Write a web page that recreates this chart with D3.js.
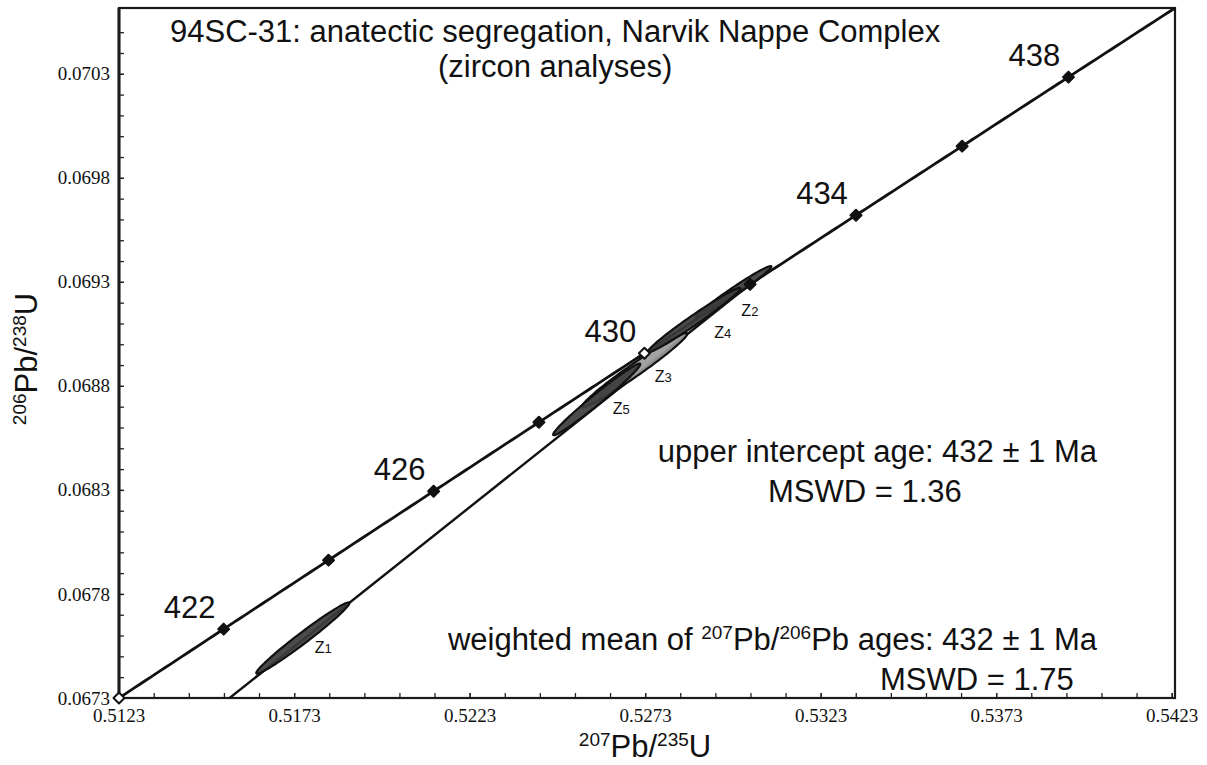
<!DOCTYPE html>
<html>
<head>
<meta charset="utf-8">
<script src="https://cdn.jsdelivr.net/npm/d3@7/dist/d3.min.js"></script>
<style>
  body { margin: 0; background: #fff; }
  text { fill: #111; }
</style>
</head>
<body>
<svg id="chart" width="1207" height="765"></svg>
<script>
// Decay constants (per year) used for the concordia curve
const LAMBDA_238 = 1.55125e-10;
const LAMBDA_235 = 9.8485e-10;

// Concordia age window shown on the diagram (Ma)
const ageWindow = [420, 440];
const markerAges = [420, 422, 424, 426, 428, 430, 432, 434, 436, 438];
const labelledAges = [422, 426, 430, 434, 438];
const openMarkerAges = [420, 430];

// Zircon analyses: 207Pb/235U, 206Pb/238U with 2-sigma errors and error correlation
const analysisNames = ["Z1", "Z2", "Z3", "Z4", "Z5"];
const pb207u235 = [0.517545, 0.529810, 0.527000, 0.528697, 0.525917];
const pb207u235Err = [0.001326, 0.001084, 0.001497, 0.001312, 0.001241];
const pb206u238 = [0.067610, 0.069273, 0.068898, 0.069139, 0.068757];
const pb206u238Err = [0.000171, 0.000125, 0.000178, 0.000154, 0.000172];
const errCorr = [0.982, 0.982, 0.979, 0.983, 0.983];

// Discordia: regression chord to the upper intercept
const upperInterceptAge = 432;
const discordiaLowerX = 0.51546;

// Axis ticks
const xMajorTicks = [0.512297, 0.517297, 0.522297, 0.527297, 0.532297, 0.537297, 0.542297];
const yMajorTicks = [0.067322, 0.067822, 0.068322, 0.068822, 0.069322, 0.069822, 0.070322];

const titleLines = ["94SC-31: anatectic segregation, Narvik Nappe Complex", "(zircon analyses)"];

// ---------------------------------------------------------------
const concordia = t => [Math.expm1(LAMBDA_235 * t * 1e6), Math.expm1(LAMBDA_238 * t * 1e6)];

const svg = d3.select("#chart");
const plot = { left: 119, right: 1175, top: 8, bottom: 698 };
const sans = "'Liberation Sans', Arial, sans-serif";
const bigFont = 31;

const c0 = concordia(ageWindow[0]), c1 = concordia(ageWindow[1]);
const x = d3.scaleLinear().domain([c0[0], c1[0]]).range([plot.left, plot.right]);
const y = d3.scaleLinear().domain([c0[1], c1[1]]).range([plot.bottom, plot.top]);

svg.append("defs").append("clipPath").attr("id", "plot-clip")
  .append("rect").attr("x", plot.left).attr("y", plot.top)
  .attr("width", plot.right - plot.left).attr("height", plot.bottom - plot.top);

// Axes with inward ticks
const xMinor = d3.range(0, 31).map(i => xMajorTicks[0] + i * 0.001);
const yMinor = d3.range(0, 33).map(i => yMajorTicks[0] + i * 0.0001);
const fmt = d3.format(".4f");

const gx = svg.append("g").attr("transform", `translate(0,${plot.bottom})`);
gx.call(d3.axisBottom(x).tickValues(xMinor).tickSize(-5).tickFormat(""));
gx.append("g").call(d3.axisBottom(x).tickValues(xMajorTicks).tickSize(-5).tickPadding(11).tickFormat(fmt));
gx.selectAll(".domain").remove();

const gy = svg.append("g").attr("transform", `translate(${plot.left},0)`);
gy.call(d3.axisLeft(y).tickValues(yMinor).tickSize(-5).tickFormat(""));
gy.append("g").call(d3.axisLeft(y).tickValues(yMajorTicks).tickSize(-5).tickPadding(9).tickFormat(fmt));
gy.selectAll(".domain").remove();

svg.selectAll(".tick line").attr("stroke", "#222").attr("stroke-width", 1.3);
svg.selectAll(".tick text")
  .attr("font-family", "'Liberation Serif', 'DejaVu Serif', serif")
  .attr("font-size", 19).attr("fill", "#222");

// Frame
svg.append("rect").attr("x", plot.left).attr("y", plot.top)
  .attr("width", plot.right - plot.left).attr("height", plot.bottom - plot.top)
  .attr("fill", "none").attr("stroke", "#1a1a1a").attr("stroke-width", 2.2);
svg.append("line").attr("x1", plot.left).attr("x2", plot.left)
  .attr("y1", plot.top).attr("y2", plot.bottom)
  .attr("stroke", "#1a1a1a").attr("stroke-width", 3);

const body = svg.append("g").attr("clip-path", "url(#plot-clip)");

// Discordia chord
const ui = concordia(upperInterceptAge);
body.append("line")
  .attr("x1", x(discordiaLowerX)).attr("y1", y(c0[1]))
  .attr("x2", x(ui[0])).attr("y2", y(ui[1]))
  .attr("stroke", "#111").attr("stroke-width", 2.4);

// Concordia curve
const curveAges = d3.range(ageWindow[0], ageWindow[1] + 0.001, 0.1);
body.append("path")
  .datum(curveAges.map(concordia))
  .attr("d", d3.line().x(d => x(d[0])).y(d => y(d[1])))
  .attr("fill", "none").attr("stroke", "#111").attr("stroke-width", 2.8);

// Error ellipses
const analyses = analysisNames.map((name, i) => ({
  name, cx: pb207u235[i], sx: pb207u235Err[i], cy: pb206u238[i], sy: pb206u238Err[i], rho: errCorr[i]
}));
const ellipsePts = a => d3.range(0, 361, 3).map(deg => {
  const t = deg * Math.PI / 180;
  return [a.cx + a.sx * Math.cos(t),
          a.cy + a.sy * (a.rho * Math.cos(t) + Math.sqrt(1 - a.rho * a.rho) * Math.sin(t))];
});
const ellipseLine = d3.line().x(d => x(d[0])).y(d => y(d[1])).curve(d3.curveLinearClosed);
body.selectAll("path.ellipse")
  .data(analyses)
  .join("path").attr("class", "ellipse")
  .attr("d", a => ellipseLine(ellipsePts(a)))
  .attr("fill", a => a.name === "Z3" ? "#9a9a9a" : "#3c3c3c")
  .attr("fill-opacity", 0.92)
  .attr("stroke", "#111").attr("stroke-width", 2.2);

// Analysis labels
const labelOffset = { Z1: [12, 15], Z2: [8, 24], Z3: [20, 12], Z4: [20, 18], Z5: [16, 15] };
svg.selectAll("text.zlabel")
  .data(analyses)
  .join("text").attr("class", "zlabel")
  .attr("x", a => x(a.cx) + labelOffset[a.name][0])
  .attr("y", a => y(a.cy) + labelOffset[a.name][1])
  .attr("font-family", sans)
  .each(function(a) {
    const t = d3.select(this);
    t.append("tspan").attr("font-size", 16).text(a.name[0]);
    t.append("tspan").attr("font-size", 13).text(a.name.slice(1));
  });

// Concordia age markers
const diamond = d3.symbol().type(d3.symbolSquare).size(60);
svg.selectAll("path.marker")
  .data(markerAges)
  .join("path").attr("class", "marker")
  .attr("d", diamond)
  .attr("transform", t => { const p = concordia(t); return `translate(${x(p[0])},${y(p[1])}) rotate(45)`; })
  .attr("fill", t => openMarkerAges.includes(t) ? "#fff" : "#111")
  .attr("stroke", "#111").attr("stroke-width", 2)
  .attr("stroke-linejoin", "round");

svg.selectAll("text.age")
  .data(labelledAges)
  .join("text").attr("class", "age")
  .attr("x", t => x(concordia(t)[0]) - 34)
  .attr("y", t => y(concordia(t)[1]) - 11)
  .attr("text-anchor", "middle")
  .attr("font-family", sans)
  .attr("font-size", bigFont)
  .text(t => t);

// Title (two lines, the second centred under the first)
const titleTop = svg.append("text").attr("x", 170).attr("y", 42)
  .attr("font-family", sans).attr("font-size", bigFont).text(titleLines[0]);
const firstWidth = titleTop.node().getComputedTextLength();
svg.append("text").attr("x", 170 + firstWidth / 2).attr("y", 77)
  .attr("text-anchor", "middle")
  .attr("font-family", sans).attr("font-size", bigFont).text(titleLines[1]);

// Results
const richText = (xPos, yPos, parts, anchor) => {
  const t = svg.append("text").attr("x", xPos).attr("y", yPos)
    .attr("font-family", sans).attr("font-size", bigFont).attr("text-anchor", anchor || "start");
  parts.forEach(p => {
    const s = t.append("tspan").text(p.text);
    if (p.sup) { s.attr("font-size", 19).attr("dy", -11); }
    if (p.down) { s.attr("dy", 11); }
  });
  return t;
};
richText(1097, 462, [{ text: "upper intercept age: " + upperInterceptAge + " \u00b1 1 Ma" }], "end");
richText(768, 502, [{ text: "MSWD = 1.36" }]);
richText(1097, 650, [
  { text: "weighted mean of " }, { text: "207", sup: true }, { text: "Pb/", down: true },
  { text: "206", sup: true }, { text: "Pb ages: 432 \u00b1 1 Ma", down: true }
], "end");
richText(880, 690, [{ text: "MSWD = 1.75" }]);

// Axis titles
richText(645, 757, [
  { text: "207", sup: true }, { text: "Pb/", down: true }, { text: "235", sup: true }, { text: "U", down: true }
], "middle");
richText(0, 0, [
  { text: "206", sup: true }, { text: "Pb/", down: true }, { text: "238", sup: true }, { text: "U", down: true }
], "middle").attr("transform", "translate(37,359) rotate(-90)");
</script>
</body>
</html>
